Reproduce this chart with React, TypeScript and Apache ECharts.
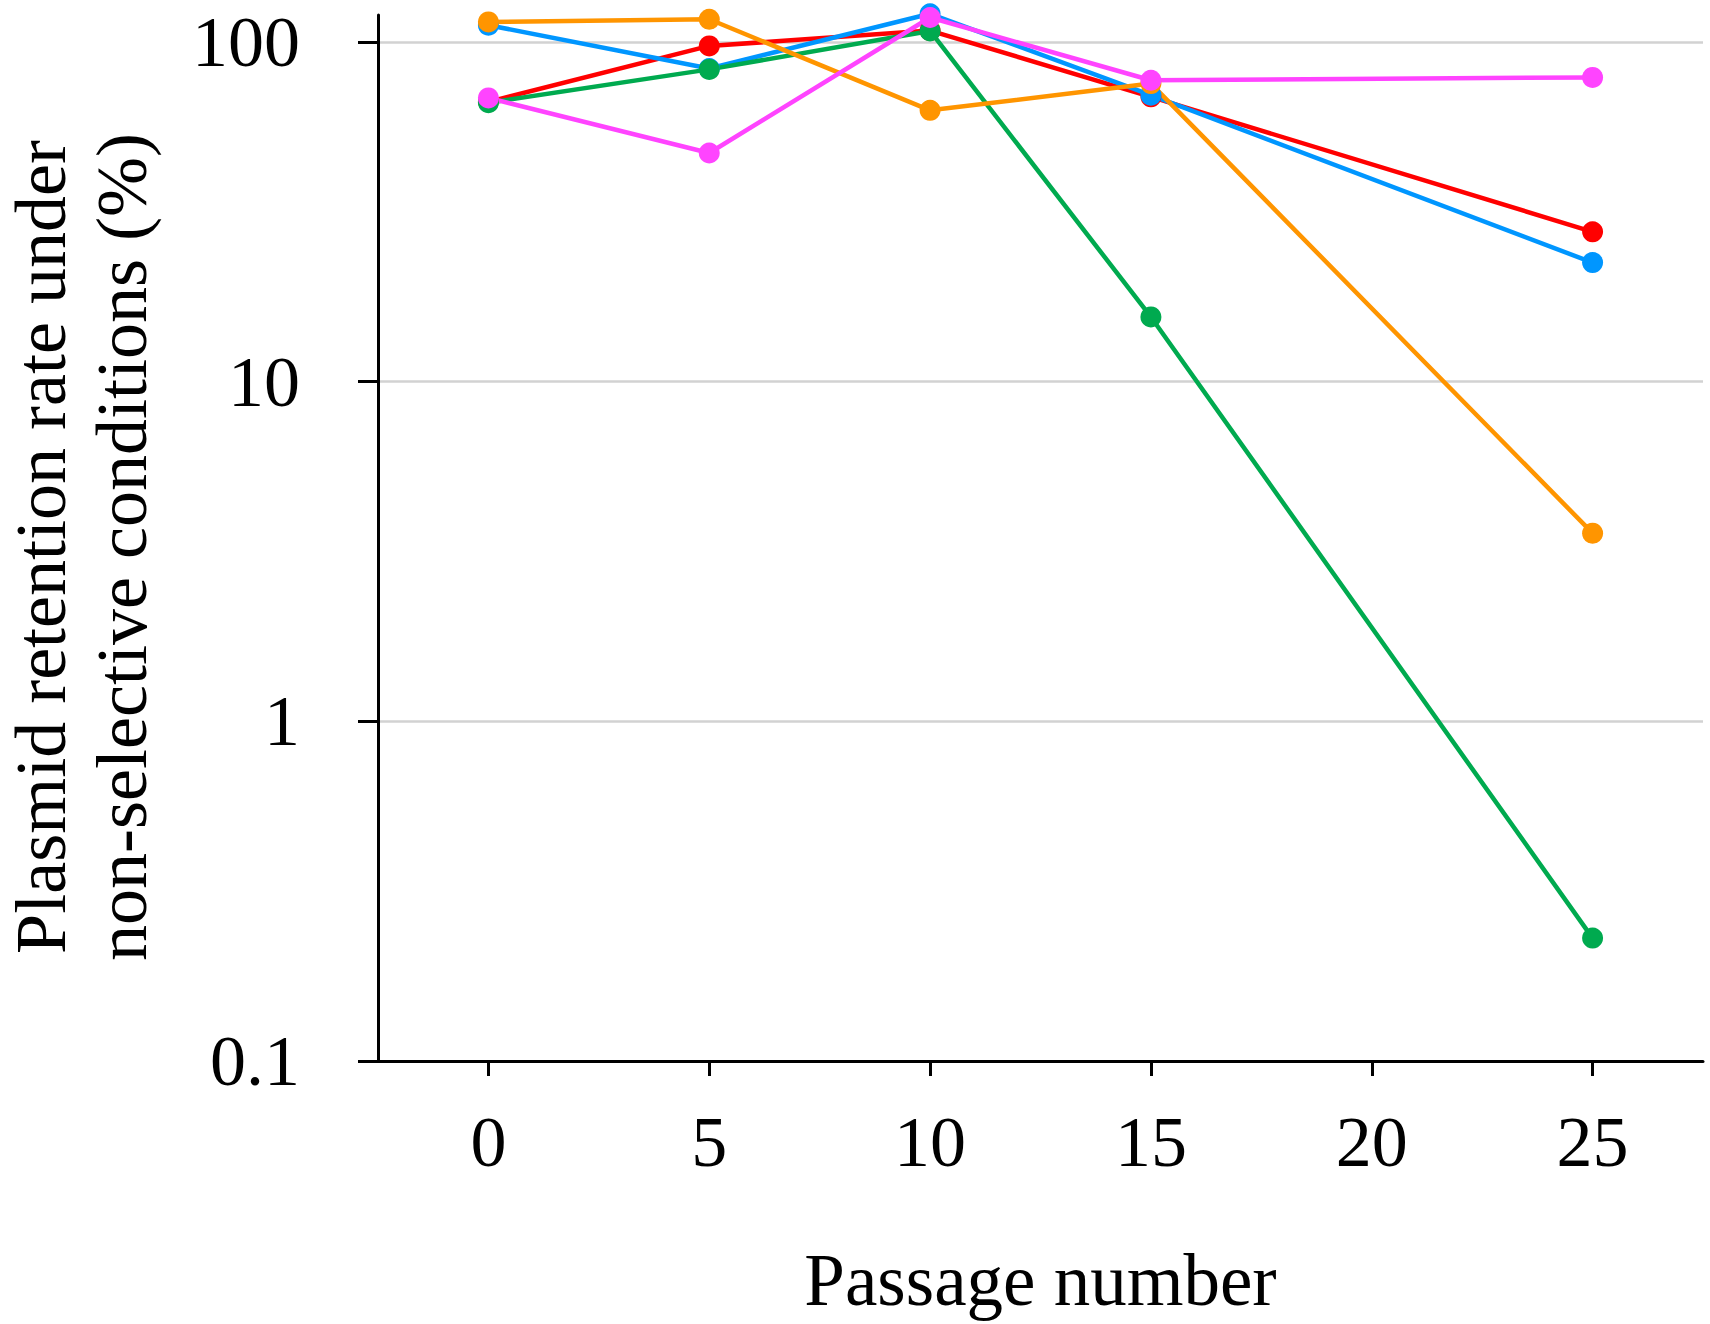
import React, { useEffect, useRef } from "react";
import * as echarts from "echarts";

const PASSAGES = [0, 5, 10, 15, 25];
const X_TICKS = [0, 5, 10, 15, 20, 25];
const Y_TICKS = [0.1, 1, 10, 100];

const RED = [66.6, 97.3, 108, 68.9, 27.6];
const BLUE = [112, 83.5, 121, 69.7, 22.4];
const GREEN = [66.2, 83, 107.7, 15.5, 0.23];
const ORANGE = [114.5, 116.6, 62.9, 75.4, 3.58];
const MAGENTA = [68.4, 47.1, 118, 77.1, 78.6];

const SERIES = [
  { name: "Red", color: "#ff0000", values: RED },
  { name: "Blue", color: "#0096ff", values: BLUE },
  { name: "Green", color: "#00aa4f", values: GREEN },
  { name: "Orange", color: "#ff9500", values: ORANGE },
  { name: "Magenta", color: "#ff44ff", values: MAGENTA },
];

const FONT = "'Liberation Serif', 'Times New Roman', serif";

export default function App() {
  const ref = useRef<HTMLDivElement>(null);

  useEffect(() => {
    document.body.style.margin = "0";
    document.body.style.overflow = "hidden";
    if (!ref.current) return;
    const chart = echarts.init(ref.current, undefined, { renderer: "svg" });
    const option = {
      animation: false,
      backgroundColor: "#ffffff",
      grid: {
        left: 378,
        right: 7,
        top: 15,
        bottom: 263,
        containLabel: false,
        outerBoundsMode: "none",
      },
      xAxis: {
        type: "value",
        min: -2.5,
        max: 27.5,
        axisLine: { show: true, lineStyle: { color: "#000", width: 3 } },
        axisTick: {
          show: true,
          length: 15,
          customValues: X_TICKS,
          lineStyle: { color: "#000", width: 3 },
        },
        axisLabel: {
          customValues: X_TICKS,
          margin: 45,
          fontSize: 72,
          lineHeight: 72,
          fontFamily: FONT,
          color: "#000",
        },
        splitLine: { show: false },
        name: "Passage number",
        nameLocation: "middle",
        nameGap: 183,
        nameTextStyle: { fontSize: 73, lineHeight: 72, fontFamily: FONT, color: "#000" },
      },
      yAxis: {
        type: "log",
        logBase: 10,
        min: 0.1,
        max: 120,
        axisLine: { show: true, onZero: false, lineStyle: { color: "#000", width: 3 } },
        axisTick: {
          show: true,
          length: 20,
          customValues: Y_TICKS,
          lineStyle: { color: "#000", width: 3 },
        },
        axisLabel: {
          customValues: Y_TICKS,
          margin: 78,
          fontSize: 72,
          lineHeight: 72,
          padding: [0, 0, 8, 0],
          fontFamily: FONT,
          color: "#000",
          formatter: (v: number) => (v < 1 ? v.toFixed(1) : String(Math.round(v))),
        },
        splitLine: { show: true, lineStyle: { color: "#d2d2d2", width: 2.5 } },
        name: "Plasmid retention rate under\nnon-selective conditions (%)",
        nameLocation: "middle",
        nameGap: 216,
        nameTextStyle: {
          fontSize: 72,
          lineHeight: 81,
          fontFamily: FONT,
          color: "#000",
          padding: [0, 18, 0, 0],
        },
      },
      series: SERIES.map((s) => ({
        name: s.name,
        type: "line",
        clip: false,
        symbol: "circle",
        symbolSize: 21,
        lineStyle: { color: s.color, width: 4.5 },
        itemStyle: { color: s.color },
        data: PASSAGES.map((p, i) => [p, s.values[i]]),
      })),
    };
    chart.setOption(option as any);
    return () => chart.dispose();
  }, []);

  return <div ref={ref} style={{ width: 1710, height: 1324 }} />;
}
